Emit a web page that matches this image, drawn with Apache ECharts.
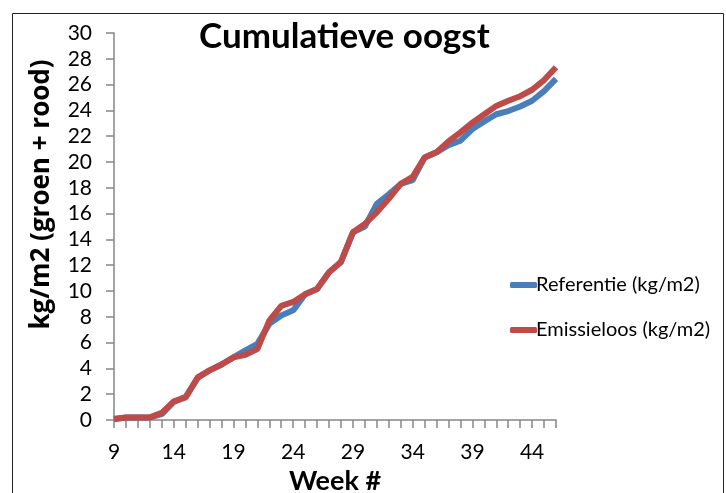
<!DOCTYPE html>
<html>
<head>
<meta charset="utf-8">
<script src="https://cdn.jsdelivr.net/npm/echarts@6/dist/echarts.min.js"></script>
<style>
html,body{margin:0;padding:0;background:#fff;}
#c{width:726px;height:493px;}
</style>
</head>
<body>
<div id="c"></div>
<script>
var weeks = [9,10,11,12,13,14,15,16,17,18,19,20,21,22,23,24,25,26,27,28,29,30,31,32,33,34,35,36,37,38,39,40,41,42,43,44,45,46];
var referentie = [0.05,0.2,0.2,0.2,0.45,1.4,1.8,3.25,3.85,4.3,4.85,5.4,5.9,7.45,8.1,8.5,9.75,10.15,11.45,12.25,14.55,15.0,16.75,17.5,18.3,18.6,20.35,20.75,21.3,21.65,22.55,23.15,23.7,23.95,24.3,24.75,25.5,26.45];
var emissieloos = [0.1,0.2,0.2,0.2,0.55,1.45,1.75,3.3,3.85,4.3,4.85,5.05,5.5,7.7,8.85,9.15,9.75,10.15,11.45,12.25,14.55,15.2,16.1,17.15,18.3,18.85,20.35,20.75,21.6,22.3,23.05,23.7,24.35,24.75,25.1,25.6,26.35,27.35];
var yTicks = {min:0, max:30, step:2};
var labels = {title:'Cumulatieve oogst', x:'Week #', y:'kg/m2 (groen + rood)', s1:'Referentie (kg/m2)', s2:'Emissieloos (kg/m2)'};

var font = 'Lato, "Open Sans", sans-serif';
var axisColor = '#868686';
var chart = echarts.init(document.getElementById('c'));
chart.setOption({
  animation:false,
  backgroundColor:'#fff',
  title:{text:labels.title,left:194,top:14,textStyle:{fontFamily:font,fontSize:35,fontWeight:'bold',color:'#000'}},
  grid:{left:114,right:170,top:33,bottom:73,containLabel:false,outerBoundsMode:'none'},
  legend:{
    orient:'vertical',left:505,top:270,itemGap:25,itemWidth:27,itemHeight:6,
    icon:'roundRect',
    textStyle:{fontFamily:font,fontSize:20,color:'#000',padding:[0,0,0,-6]},
    data:[labels.s1,labels.s2]
  },
  xAxis:{
    type:'category',data:weeks,boundaryGap:false,
    name:labels.x,nameLocation:'middle',nameGap:48,nameMoveOverlap:false,
    nameTextStyle:{fontFamily:font,fontSize:27,fontWeight:'bold',color:'#000'},
    axisLine:{lineStyle:{color:axisColor,width:1.5}},
    axisTick:{show:true,interval:0,length:8,lineStyle:{color:axisColor,width:1.5}},
    axisLabel:{interval:4,margin:22,fontFamily:font,fontSize:21,color:'#000'},
    splitLine:{show:false}
  },
  yAxis:{
    type:'value',min:yTicks.min,max:yTicks.max,interval:yTicks.step,
    name:labels.y,nameLocation:'middle',nameGap:59,nameMoveOverlap:false,
    nameTextStyle:{fontFamily:'"Open Sans", Lato, sans-serif',fontSize:26,fontWeight:'bold',color:'#000',padding:[0,0,0,64]},
    axisLine:{show:true,lineStyle:{color:axisColor,width:1.5}},
    axisTick:{show:true,length:8,lineStyle:{color:axisColor,width:1.5}},
    axisLabel:{margin:22,fontFamily:font,fontSize:21,color:'#000'},
    splitLine:{show:false}
  },
  graphic:[
    {type:'rect',shape:{x:12.5,y:13.5,width:711,height:500},style:{fill:'none',stroke:'#222',lineWidth:1},silent:true,z:-1}
  ],
  series:[
    {name:labels.s1,type:'line',data:referentie,symbol:'none',lineStyle:{width:6,color:'#4A7EBB'},itemStyle:{color:'#4A7EBB'}},
    {name:labels.s2,type:'line',data:emissieloos,symbol:'none',lineStyle:{width:6,color:'#BE4B48'},itemStyle:{color:'#BE4B48'}}
  ]
});
</script>
</body>
</html>
